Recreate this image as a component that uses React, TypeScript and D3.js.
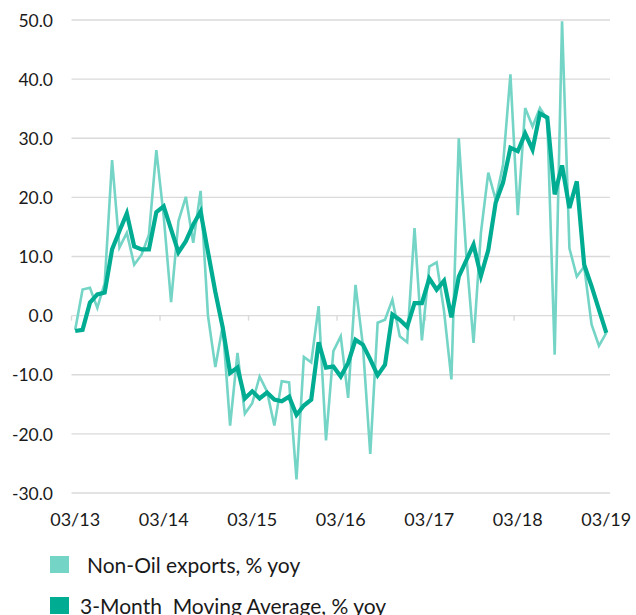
import React, { useRef, useEffect } from "react";
import * as d3 from "d3";

const tickLabels = ["03/13", "03/14", "03/15", "03/16", "03/17", "03/18", "03/19"];
const yTicks = [50, 40, 30, 20, 10, 0, -10, -20, -30];

// monthly, 03/13 .. 03/19
const nonOil = [
	-2.4, 4.4, 4.7, 1.3, 5.5, 26.3, 11.5, 14.0, 8.6, 10.3, 13.7, 28.0,
	16.8, 2.3, 16.0, 20.1, 12.3, 21.1, 0.0, -8.7, -1.7, -18.6, -6.3, -16.6,
	-14.8, -10.3, -12.8, -18.6, -11.1, -11.3, -27.7, -7.0, -7.9, 1.6, -21.1, -6.0,
	-3.5, -13.9, 5.2, -5.0, -23.4, -1.2, -0.7, 2.7, -3.5, -4.5, 14.8, -4.2,
	8.3, 9.0, 0.8, -10.8, 30.0, 10.6, -4.6, 14.0, 24.2, 19.6, 25.5, 40.8,
	17.0, 35.1, 32.0, 35.1, 33.2, -6.6, 49.8, 11.4, 6.6, 8.3, -1.5, -5.1,
	-2.9
];

const movingAvg = [
	-2.6, -2.4, 2.2, 3.6, 3.9, 11.2, 14.3, 17.3, 11.7, 11.2, 11.2, 17.5,
	18.5, 14.6, 10.7, 12.6, 15.4, 17.6, 10.8, 4.0, -2.0, -9.7, -8.8, -14.0,
	-12.8, -14.0, -13.0, -14.2, -14.5, -13.7, -16.8, -15.2, -14.2, -4.5, -8.8, -8.6,
	-10.3, -8.0, -4.1, -4.9, -7.4, -10.1, -8.3, 0.2, -0.7, -1.9, 2.1, 2.1,
	6.3, 4.4, 5.9, -0.3, 6.6, 9.3, 12.0, 6.7, 11.1, 19.1, 22.5, 28.4,
	27.8, 30.8, 28.1, 34.2, 33.5, 20.5, 25.4, 18.2, 22.7, 8.6, 5.0, 1.0,
	-2.9
];

const LIGHT = "#74d4c6";
const DARK = "#00ad93";
const FONT = "Lato, 'Open Sans', sans-serif";

const App = () => {
	const chartRef = useRef<SVGSVGElement>(null);

	useEffect(() => {
		const width = 636;
		const height = 615;
		const svg = d3.select(chartRef.current).attr("width", width).attr("height", height);
		svg.selectAll("*").remove();

		const n = nonOil.length;
		const x = d3.scaleLinear().domain([-0.5, n - 0.5]).range([71.5, 610]);
		const y = d3.scaleLinear().domain([-30, 50]).range([493, 20]);

		// grid
		svg.append("g")
			.selectAll("line")
			.data(yTicks)
			.enter()
			.append("line")
			.attr("x1", 71.5)
			.attr("x2", 610)
			.attr("y1", d => y(d))
			.attr("y2", d => y(d))
			.attr("stroke", "#dadada")
			.attr("stroke-width", 1.4);

		// y labels
		svg.append("g")
			.selectAll("text")
			.data(yTicks)
			.enter()
			.append("text")
			.attr("x", 53)
			.attr("y", d => y(d))
			.attr("dy", "0.38em")
			.attr("text-anchor", "end")
			.attr("font-family", FONT)
			.attr("font-size", 17.5)
			.attr("fill", "#1a1a1a")
			.text(d => d.toFixed(1));

		// year ticks on zero line (between categories)
		svg.append("g")
			.selectAll("line")
			.data(tickLabels)
			.enter()
			.append("line")
			.attr("x1", (d, i) => x(i * 12 - 0.5))
			.attr("x2", (d, i) => x(i * 12 - 0.5))
			.attr("y1", y(0))
			.attr("y2", y(0) + 5)
			.attr("stroke", "#dadada")
			.attr("stroke-width", 1.4);

		// x labels
		svg.append("g")
			.selectAll("text")
			.data(tickLabels)
			.enter()
			.append("text")
			.attr("x", (d, i) => x(i * 12))
			.attr("y", 520)
			.attr("dy", "0.36em")
			.attr("text-anchor", "middle")
			.attr("font-family", FONT)
			.attr("font-size", 18)
			.attr("fill", "#1a1a1a")
			.text(d => d);

		const line = d3.line<number>()
			.x((d, i) => x(i))
			.y(d => y(d));

		svg.append("path")
			.attr("d", line(nonOil))
			.attr("fill", "none")
			.attr("stroke", LIGHT)
			.attr("stroke-width", 2.6)
			.attr("stroke-linejoin", "miter");

		svg.append("path")
			.attr("d", line(movingAvg))
			.attr("fill", "none")
			.attr("stroke", DARK)
			.attr("stroke-width", 4.2)
			.attr("stroke-linejoin", "miter");

		// legend
		const legend = [
			{ label: "Non-Oil exports, % yoy", color: LIGHT, base: 573, tx: 87 },
			{ label: "3-Month  Moving Average, % yoy", color: DARK, base: 614, tx: 80 }
		];
		const lg = svg.append("g");
		legend.forEach(l => {
			lg.append("rect")
				.attr("x", 50)
				.attr("y", l.base - 17)
				.attr("width", 19)
				.attr("height", 17)
				.attr("fill", l.color);
			lg.append("text")
				.attr("x", l.tx)
				.attr("y", l.base)
				.attr("font-family", FONT)
				.attr("font-size", 21)
				.attr("fill", "#1a1a1a")
				.attr("xml:space", "preserve")
				.style("white-space", "pre")
				.text(l.label);
		});
	}, []);

	return (
		<div style={{ position: "absolute", left: 0, top: 0 }}>
			<svg ref={chartRef}></svg>
		</div>
	);
};

export default App;
